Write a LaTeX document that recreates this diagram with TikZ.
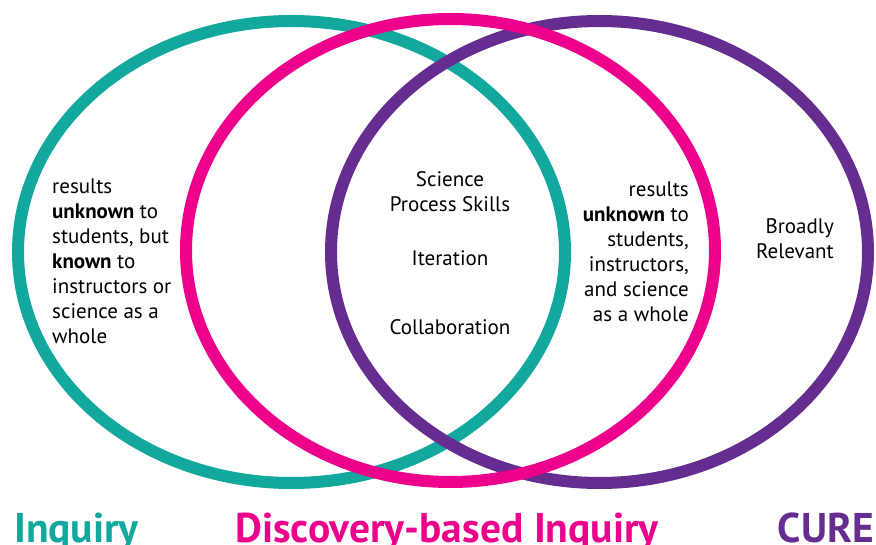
\documentclass[tikz,border=0pt]{standalone}
\usepackage{fontspec}
\setmainfont{PT Sans}
\definecolor{inqteal}{RGB}{18,168,157}
\definecolor{discmagenta}{RGB}{236,0,140}
\definecolor{curepurple}{RGB}{102,45,145}
\tikzset{
  ring/.style={line width=12pt},
  body/.style={inner sep=0pt, font=\fontsize{21}{25}\selectfont},
  title/.style={inner sep=0pt, anchor=base west, font=\fontsize{41.5}{48}\selectfont\bfseries}
}
\begin{document}
\begin{tikzpicture}[x=1pt,y=1pt]
    \useasboundingbox (0,0) rectangle (876,544);
    % the three sets, magenta on top
    \draw[ring, inqteal] (291.5,292) ellipse [x radius=273.5, y radius=231];
    \draw[ring, curepurple] (599.5,292) ellipse [x radius=268.5, y radius=231];
    \draw[ring, discmagenta] (450.5,293.5) ellipse [x radius=264.5, y radius=231.5];
    % texts inside
    \node[body, anchor=west, align=left] (inqonly) at (52,283)
        {results\\\textbf{unknown} to\\students, but\\\textbf{known} to\\instructors or\\science as a\\whole};
    \node[body, align=center] (skills) at (450,352) {Science\\Process Skills};
    \node[body, anchor=base] (iter) at (450,278) {Iteration};
    \node[body, anchor=base] (collab) at (450,209) {Collaboration};
    \node[body, anchor=east, align=right] (discpart) at (689,292)
        {results\\\textbf{unknown} to\\students,\\instructors,\\and science\\as a whole};
    \node[body, anchor=east, align=right] (relevant) at (834,305) {Broadly\\Relevant};
    % set names
    \node[title, text=inqteal] (inqlabel) at (14,2) {Inquiry};
    \node[title, text=discmagenta] (disclabel) at (235,2) {Discovery-based Inquiry};
    \node[title, text=curepurple, anchor=base east] (curelabel) at (874,2) {CURE};
\end{tikzpicture}
\end{document}
